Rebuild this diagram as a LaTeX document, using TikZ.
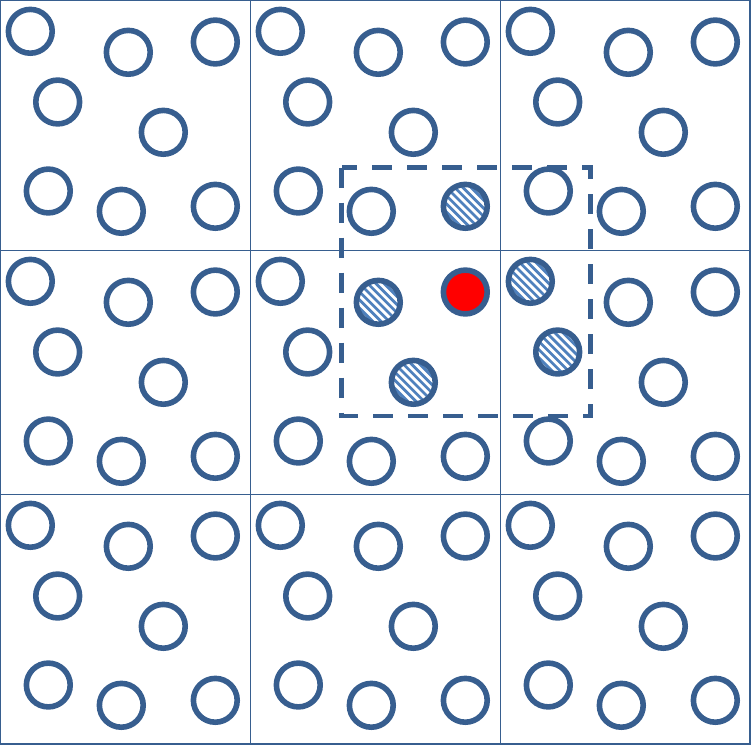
\documentclass[tikz,border=0pt]{standalone}
\definecolor{ringblue}{RGB}{55,94,143}
\definecolor{hatchblue}{RGB}{79,129,189}
\begin{document}
\begin{tikzpicture}[x=1pt,y=-1pt,
  gridline/.style={draw=ringblue,line width=1.4pt},
  ring/.style={circle,draw=ringblue,line width=5.6pt,minimum size=43.8pt,inner sep=0pt,fill=white},
  hatched/.style={path picture={
    \foreach \k in {-6,...,6}
      \draw[hatchblue,line width=2.7pt] ([xshift=\k*8.2pt]path picture bounding box.center) ++(-30,-30) -- ++(60,60);
  }},
  redfill/.style={fill=red},
  sp-0-1-8/.style={hatched},
  sp-1-1-2/.style={hatched},
  sp-1-1-5/.style={hatched},
  sp-1-2-1/.style={hatched},
  sp-1-2-4/.style={hatched},
  sp-1-1-3/.style={redfill},
  window/.style={draw=ringblue,line width=4.9pt,dash pattern=on 20pt off 15pt}
]
\useasboundingbox (0,0) rectangle (751,745);
% grid
\draw[gridline] (0.7,0.7) rectangle (750,743.8);
\draw[gridline] (250.7,0.7) -- (250.7,743.8);
\draw[gridline] (500.3,0.7) -- (500.3,743.8);
\draw[gridline] (0.7,250.7) -- (750,250.7);
\draw[gridline] (0.7,494.5) -- (750,494.5);
% circles
\foreach \ox/\oy/\r/\c in {0/0/0/0, 250/0/0/1, 500/0/0/2, 0/250/1/0, 250/250/1/1, 500/250/1/2, 0/494/2/0, 250/494/2/1, 500/494/2/2}{
  \foreach \x/\y [count=\i] in {30.3/31.3, 128.3/52.3, 215.3/42, 57.7/102, 163.3/132.3, 48.3/191, 121.3/211.3, 215.3/206.3}{
    \node[ring, sp-\r-\c-\i/.try] (n-\r-\c-\i) at (\ox+\x,\oy+\y) {};
  }
}
% dashed window
\draw[window] (341.7,167.5) rectangle (590.7,416);
\end{tikzpicture}
\end{document}
